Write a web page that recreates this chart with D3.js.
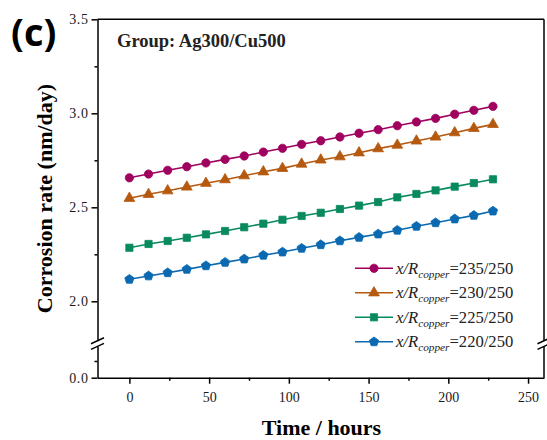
<!DOCTYPE html>
<html>
<head>
<meta charset="utf-8">
<script src="https://cdn.jsdelivr.net/npm/d3@7"></script>
<style>
  html, body { margin: 0; padding: 0; background: #fff; }
  svg { display: block; }
</style>
</head>
<body>
<svg id="svg" width="547" height="440"></svg>
<script>
// time axis (hours)
const hours = [0, 12, 24, 36, 48, 60, 72, 84, 96, 108, 120, 132, 144, 156, 168, 180, 192, 204, 216, 228];

// corrosion rate (nm/day)
const rate235 = [2.657, 2.677, 2.697, 2.716, 2.736, 2.755, 2.773, 2.794, 2.814, 2.835, 2.854, 2.874, 2.894, 2.913, 2.934, 2.954, 2.973, 2.995, 3.016, 3.037];
const rate230 = [2.548, 2.569, 2.588, 2.608, 2.628, 2.647, 2.668, 2.689, 2.707, 2.730, 2.752, 2.769, 2.790, 2.812, 2.831, 2.853, 2.874, 2.897, 2.920, 2.941];
const rate225 = [2.285, 2.305, 2.321, 2.338, 2.356, 2.374, 2.394, 2.413, 2.434, 2.454, 2.471, 2.491, 2.509, 2.528, 2.553, 2.571, 2.590, 2.610, 2.629, 2.649];
const rate220 = [2.117, 2.135, 2.152, 2.170, 2.189, 2.207, 2.225, 2.245, 2.262, 2.282, 2.301, 2.322, 2.340, 2.358, 2.378, 2.399, 2.418, 2.438, 2.457, 2.480];

const ratios = ["235/250", "230/250", "225/250", "220/250"];
const colors = ["#a0005e", "#b5590f", "#088a5e", "#0a69b0"];

const xMajor = [0, 50, 100, 150, 200, 250];
const xMinor = [25, 75, 125, 175, 225];
const yMajor = [2.0, 2.5, 3.0, 3.5];
const yMinor = [2.25, 2.75, 3.25];
const yLowMajor = [0.0];
const yLowMinor = [0.25];

// pentagon marker, d3 has none
const symbolPentagon = {
  draw(context, size) {
    const r = Math.sqrt(size / 2.3776);
    for (let i = 0; i < 5; i++) {
      const a = -Math.PI / 2 + i * 2 * Math.PI / 5;
      const px = r * Math.cos(a), py = r * Math.sin(a);
      if (i === 0) context.moveTo(px, py); else context.lineTo(px, py);
    }
    context.closePath();
  }
};
const symbols = [d3.symbolCircle, d3.symbolTriangle, d3.symbolSquare, symbolPentagon];
const symSizes = [54, 50, 52, 56];

const svg = d3.select("#svg");
const plotLeft = 97.5, plotRight = 544, plotTop = 19.3, plotBottom = 377.7;
const breakTop = 340.8, breakBot = 346.3;

const x = d3.scaleLinear().domain([-20, 260]).range([plotLeft, plotRight]);
const yUp = d3.scaleLinear().domain([1.79, 3.5]).range([breakTop, plotTop]);
const yLow = d3.scaleLinear().domain([0, 0.47]).range([plotBottom, breakBot]);

const serif = "'Liberation Serif', 'Times New Roman', serif";

// frame: top and right
svg.append("line").attr("x1", plotLeft).attr("x2", plotRight).attr("y1", plotTop).attr("y2", plotTop)
  .attr("stroke", "#000").attr("stroke-width", 1.5);
svg.append("line").attr("x1", plotRight).attr("x2", plotRight).attr("y1", plotTop).attr("y2", breakTop)
  .attr("stroke", "#000").attr("stroke-width", 1.5);
svg.append("line").attr("x1", plotRight).attr("x2", plotRight).attr("y1", breakBot).attr("y2", plotBottom)
  .attr("stroke", "#000").attr("stroke-width", 1.5);

// x axis
const gx = svg.append("g").attr("transform", `translate(0,${plotBottom})`);
gx.call(d3.axisBottom(x).tickValues(xMajor).tickSize(6).tickSizeOuter(0).tickPadding(8).tickFormat(d3.format("d")));
gx.append("g").call(d3.axisBottom(x).tickValues(xMinor).tickSize(3).tickFormat(""))
  .select(".domain").remove();

// y axes (broken)
const gyUp = svg.append("g").attr("transform", `translate(${plotLeft},0)`);
gyUp.call(d3.axisLeft(yUp).tickValues(yMajor).tickSize(6).tickSizeOuter(0).tickPadding(3).tickFormat(d3.format(".1f")));
gyUp.append("g").call(d3.axisLeft(yUp).tickValues(yMinor).tickSize(3).tickFormat(""))
  .select(".domain").remove();

const gyLow = svg.append("g").attr("transform", `translate(${plotLeft},0)`);
gyLow.call(d3.axisLeft(yLow).tickValues(yLowMajor).tickSize(6).tickSizeOuter(0).tickPadding(3).tickFormat(d3.format(".1f")));
gyLow.append("g").call(d3.axisLeft(yLow).tickValues(yLowMinor).tickSize(3).tickFormat(""))
  .select(".domain").remove();

[gx, gyUp, gyLow].forEach(function (g) {
  g.attr("font-family", serif).attr("font-size", 14);
  g.selectAll(".domain").attr("stroke-width", 1.5);
  g.selectAll(".tick line").attr("stroke-width", 1.5);
  g.selectAll(".tick text")
    .style("font-family", serif)
    .style("font-size", "14px")
    .style("fill", "#1a1a1a");
});
gyUp.selectAll(".tick text").style("letter-spacing", "0.6px");
gyLow.selectAll(".tick text").style("letter-spacing", "0.6px");

// break marks
const yb = (breakTop + breakBot) / 2;
[plotLeft, plotRight].forEach(function (bx) {
  [-2.8, 2.8].forEach(function (off) {
    svg.append("line")
      .attr("x1", bx - 6.5).attr("y1", yb + off + 3)
      .attr("x2", bx + 6.5).attr("y2", yb + off - 3)
      .attr("stroke", "#000").attr("stroke-width", 1.4);
  });
});

// series
const allRates = [rate235, rate230, rate225, rate220];
const line = d3.line().x(d => x(d[0])).y(d => yUp(d[1]));

allRates.forEach(function (rates, i) {
  const pts = hours.map((h, j) => [h, rates[j]]);
  svg.append("path").datum(pts)
    .attr("d", line)
    .attr("fill", "none")
    .attr("stroke", colors[i])
    .attr("stroke-width", 1.6);
  svg.append("g").selectAll("path").data(pts).join("path")
    .attr("transform", d => `translate(${x(d[0])},${yUp(d[1])})`)
    .attr("d", d3.symbol().type(symbols[i]).size(symSizes[i]))
    .attr("fill", colors[i])
    .attr("stroke", colors[i])
    .attr("stroke-width", 0.8);
});

// legend
const legend = svg.append("g").attr("transform", "translate(355,268.3)");
ratios.forEach(function (r, i) {
  const row = legend.append("g").attr("transform", `translate(0,${i * 24.5})`);
  row.append("line").attr("x1", 0).attr("x2", 38).attr("y1", 0).attr("y2", 0)
    .attr("stroke", colors[i]).attr("stroke-width", 1.6);
  row.append("path").attr("transform", "translate(19,0)")
    .attr("d", d3.symbol().type(symbols[i]).size(symSizes[i]))
    .attr("fill", colors[i]).attr("stroke", colors[i]).attr("stroke-width", 0.8);
  const t = row.append("text").attr("x", 41).attr("y", 5.5)
    .attr("font-family", serif).attr("font-size", 16.6).attr("fill", "#222");
  t.append("tspan").attr("font-style", "italic").text("x/R");
  t.append("tspan").attr("font-style", "italic").attr("font-size", 11.3).attr("dy", 4).text("copper");
  t.append("tspan").attr("dy", -4).text("=" + r);
});

// texts
svg.append("text").attr("x", 117).attr("y", 46.7)
  .attr("font-family", serif).attr("font-weight", "bold").attr("font-size", 18.5).attr("fill", "#222")
  .text("Group: Ag300/Cu500");

svg.append("text").attr("x", 321.5).attr("y", 434.5)
  .attr("text-anchor", "middle")
  .attr("font-family", serif).attr("font-weight", "bold").attr("font-size", 22).attr("fill", "#000")
  .text("Time / hours");

svg.append("text").attr("transform", "translate(52,198.5) rotate(-90)")
  .attr("text-anchor", "middle")
  .attr("font-family", serif).attr("font-weight", "bold").attr("font-size", 22).attr("fill", "#000")
  .text("Corrosion rate (nm/day)");

svg.append("text").attr("x", 11).attr("y", 46)
  .attr("font-family", "'Open Sans', 'Liberation Sans', sans-serif").attr("font-weight", "bold")
  .attr("font-size", 38).attr("fill", "#000")
  .text("(c)");
</script>
</body>
</html>
